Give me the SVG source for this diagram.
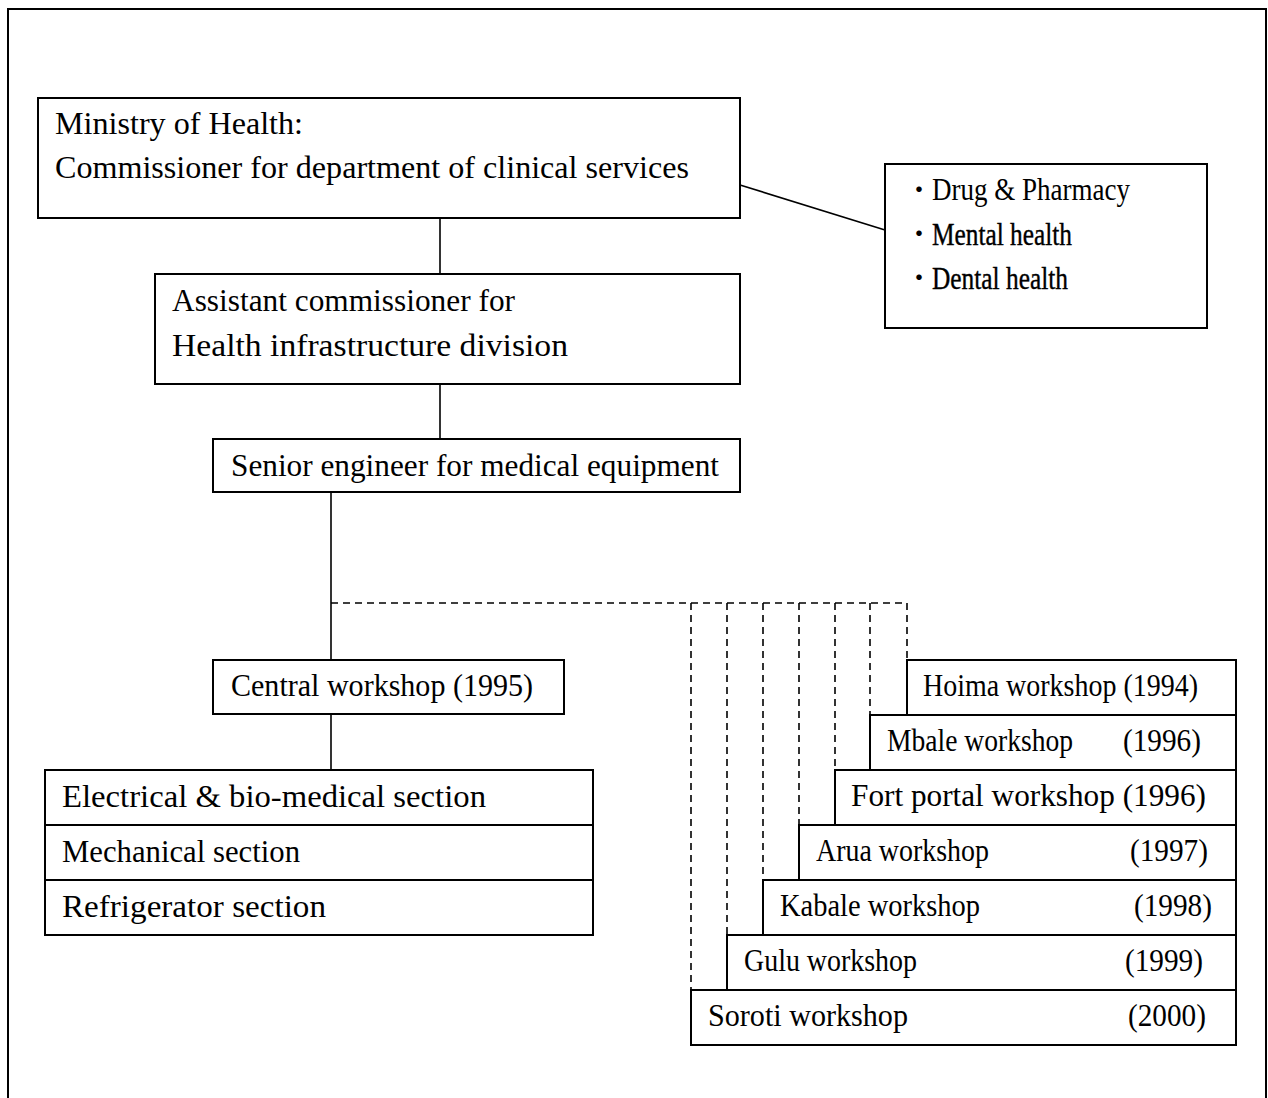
<svg xmlns="http://www.w3.org/2000/svg" width="1268" height="1098" viewBox="0 0 1268 1098">
<style>
.box{fill:#fff;stroke:#000;stroke-width:2}
.ln{fill:none;stroke:#000;stroke-width:1.6}
.dash{fill:none;stroke:#000;stroke-width:1.6;stroke-dasharray:7 5}
.t{font-family:"Liberation Serif","Times New Roman",serif;font-size:31px;fill:#000}
.b{font-family:"Noto Sans CJK JP",sans-serif;font-size:26px;fill:#000}
.tr{font-family:"Liberation Serif","Times New Roman",serif;font-size:32px;fill:#000;stroke:#000;stroke-width:0.4}
</style>
<rect width="1268" height="1098" fill="#fff"/>
<path d="M8,1100 V9 H1266 V1100" fill="none" stroke="#000" stroke-width="2"/>

<g id="connectors">
<line class="ln" x1="740" y1="185" x2="885" y2="230"/>
<line class="ln" x1="440" y1="218" x2="440" y2="274"/>
<line class="ln" x1="440" y1="384" x2="440" y2="439"/>
<line class="ln" x1="331" y1="492" x2="331" y2="660"/>
<line class="ln" x1="331" y1="714" x2="331" y2="770"/>
<path class="dash" d="M331,603 H907 V660"/>
<line class="dash" x1="870" y1="603" x2="870" y2="715"/>
<line class="dash" x1="835" y1="603" x2="835" y2="770"/>
<line class="dash" x1="799" y1="603" x2="799" y2="825"/>
<line class="dash" x1="763" y1="603" x2="763" y2="880"/>
<line class="dash" x1="727" y1="603" x2="727" y2="935"/>
<line class="dash" x1="691" y1="603" x2="691" y2="990"/>
</g>

<g id="ministry">
<rect class="box" x="38" y="98" width="702" height="120"/>
<text class="t" x="55" y="134" textLength="248" lengthAdjust="spacingAndGlyphs">Ministry of Health:</text>
<text class="t" x="55" y="178" textLength="634" lengthAdjust="spacingAndGlyphs">Commissioner for department of clinical services</text>
</g>

<g id="other-divisions">
<rect class="box" x="885" y="164" width="322" height="164"/>
<text class="b" x="919" y="199" text-anchor="middle">・</text>
<text class="t" x="932" y="200" textLength="198" lengthAdjust="spacingAndGlyphs">Drug &amp; Pharmacy</text>
<text class="b" x="919" y="243" text-anchor="middle">・</text>
<text class="tr" x="932" y="245" textLength="140" lengthAdjust="spacingAndGlyphs">Mental health</text>
<text class="b" x="919" y="287" text-anchor="middle">・</text>
<text class="tr" x="932" y="289" textLength="136" lengthAdjust="spacingAndGlyphs">Dental health</text>
</g>

<g id="assistant">
<rect class="box" x="155" y="274" width="585" height="110"/>
<text class="t" x="172" y="311" textLength="343" lengthAdjust="spacingAndGlyphs">Assistant commissioner for</text>
<text class="t" x="172" y="356" textLength="396" lengthAdjust="spacingAndGlyphs">Health infrastructure division</text>
</g>

<g id="senior-engineer">
<rect class="box" x="213" y="439" width="527" height="53"/>
<text class="t" x="231" y="476" textLength="488" lengthAdjust="spacingAndGlyphs">Senior engineer for medical equipment</text>
</g>

<g id="central-workshop">
<rect class="box" x="213" y="660" width="351" height="54"/>
<text class="t" x="231" y="696" textLength="302" lengthAdjust="spacingAndGlyphs">Central workshop (1995)</text>
</g>

<g id="sections">
<rect class="box" x="45" y="770" width="548" height="55"/>
<text class="t" x="62" y="807" textLength="424" lengthAdjust="spacingAndGlyphs">Electrical &amp; bio-medical section</text>
<rect class="box" x="45" y="825" width="548" height="55"/>
<text class="t" x="62" y="862" textLength="238" lengthAdjust="spacingAndGlyphs">Mechanical section</text>
<rect class="box" x="45" y="880" width="548" height="55"/>
<text class="t" x="62" y="917" textLength="264" lengthAdjust="spacingAndGlyphs">Refrigerator section</text>
</g>

<g id="hoima">
<rect class="box" x="907" y="660" width="329" height="55"/>
<text class="t" x="923" y="696" textLength="275" lengthAdjust="spacingAndGlyphs">Hoima workshop (1994)</text>
</g>
<g id="mbale">
<rect class="box" x="870" y="715" width="366" height="55"/>
<text class="t" x="887" y="751" textLength="186" lengthAdjust="spacingAndGlyphs">Mbale workshop</text>
<text class="t" x="1123" y="751" textLength="78" lengthAdjust="spacingAndGlyphs">(1996)</text>
</g>
<g id="fort-portal">
<rect class="box" x="835" y="770" width="401" height="55"/>
<text class="t" x="851" y="806" textLength="355" lengthAdjust="spacingAndGlyphs">Fort portal workshop (1996)</text>
</g>
<g id="arua">
<rect class="box" x="799" y="825" width="437" height="55"/>
<text class="t" x="816" y="861" textLength="173" lengthAdjust="spacingAndGlyphs">Arua workshop</text>
<text class="t" x="1130" y="861" textLength="78" lengthAdjust="spacingAndGlyphs">(1997)</text>
</g>
<g id="kabale">
<rect class="box" x="763" y="880" width="473" height="55"/>
<text class="t" x="780" y="916" textLength="200" lengthAdjust="spacingAndGlyphs">Kabale workshop</text>
<text class="t" x="1134" y="916" textLength="78" lengthAdjust="spacingAndGlyphs">(1998)</text>
</g>
<g id="gulu">
<rect class="box" x="727" y="935" width="509" height="55"/>
<text class="t" x="744" y="971" textLength="173" lengthAdjust="spacingAndGlyphs">Gulu workshop</text>
<text class="t" x="1125" y="971" textLength="78" lengthAdjust="spacingAndGlyphs">(1999)</text>
</g>
<g id="soroti">
<rect class="box" x="691" y="990" width="545" height="55"/>
<text class="t" x="708" y="1026" textLength="200" lengthAdjust="spacingAndGlyphs">Soroti workshop</text>
<text class="t" x="1128" y="1026" textLength="78" lengthAdjust="spacingAndGlyphs">(2000)</text>
</g>
</svg>
